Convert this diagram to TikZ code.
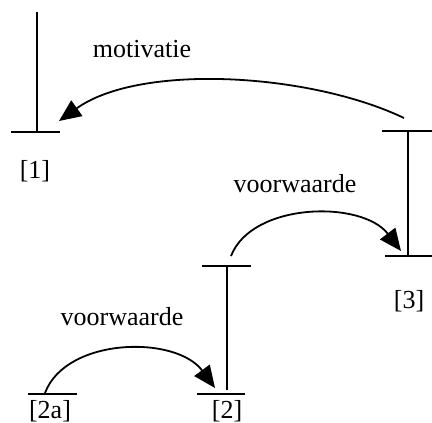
\documentclass[tikz,border=0pt]{standalone}
\usepackage{fontspec}
\setmainfont{Liberation Serif}
\usetikzlibrary{arrows.meta}
\begin{document}
\begin{tikzpicture}[x=1pt,y=-1pt,
  seg/.style={line width=1.8pt},
  rel/.style={line width=1.8pt,-{Triangle[length=22pt,width=19pt]}},
  lbl/.style={inner sep=0pt,font=\fontsize{26}{30}\selectfont},
  relname/.style={inner sep=0pt,anchor=base,font=\fontsize{26}{30}\selectfont}]
\useasboundingbox (0,0) rectangle (432,423);
% segment [1]
\coordinate (s1top) at (37,12);
\coordinate (s1bot) at (37,132);
\coordinate (s1l) at (11,132);
\coordinate (s1r) at (60,132);
\draw[seg] (s1top) -- (s1bot);
\draw[seg] (s1l) -- (s1r);
\node[lbl] (l1) at (35,171) {[1]};
% segment [3]
\coordinate (s3tl) at (382,131);
\coordinate (s3tr) at (432,131);
\coordinate (s3top) at (408,131);
\coordinate (s3bot) at (408,256);
\coordinate (s3bl) at (385,256);
\coordinate (s3br) at (432,256);
\draw[seg] (s3tl) -- (s3tr);
\draw[seg] (s3top) -- (s3bot);
\draw[seg] (s3bl) -- (s3br);
\node[lbl] (l3) at (409,301) {[3]};
% segment [2]
\coordinate (s2tl) at (202,266);
\coordinate (s2tr) at (251,266);
\coordinate (s2top) at (227,266);
\coordinate (s2bot) at (227,390);
\coordinate (s2bl) at (197,394);
\coordinate (s2br) at (245,394);
\draw[seg] (s2tl) -- (s2tr);
\draw[seg] (s2top) -- (s2bot);
\draw[seg] (s2bl) -- (s2br);
\node[lbl] (l2) at (227,411) {[2]};
% segment [2a]
\coordinate (s2al) at (28,394);
\coordinate (s2ar) at (77,394);
\draw[seg] (s2al) -- (s2ar);
\node[lbl] (l2a) at (50,411) {[2a]};
% relations
\coordinate (m1) at (404,118);
\coordinate (m2) at (59,121);
\draw[rel] (m1) .. controls (310,73) and (140,63) .. (m2);
\node[relname] (tm) at (142,57) {motivatie};
\coordinate (v1) at (231,256);
\coordinate (v2) at (401,251);
\draw[rel] (v1) .. controls (252,202) and (362,200) .. (v2);
\node[relname] (tv1) at (295,192) {voorwaarde};
\coordinate (w1) at (45,393);
\coordinate (w2) at (215,388);
\draw[rel] (w1) .. controls (66,337) and (176,335) .. (w2);
\node[relname] (tv2) at (122,325) {voorwaarde};
\end{tikzpicture}
\end{document}
